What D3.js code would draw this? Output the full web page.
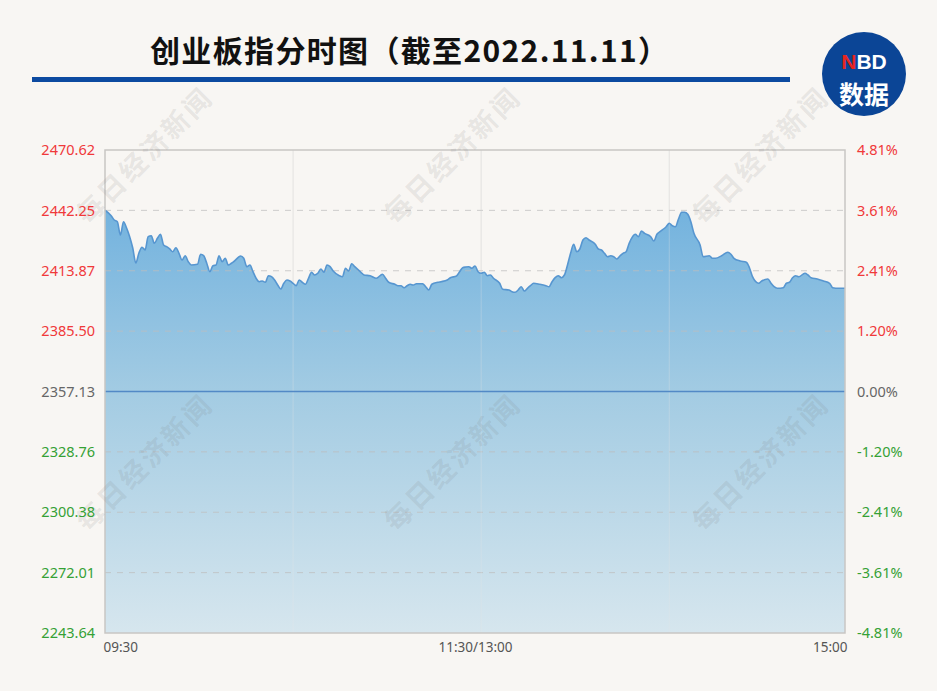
<!DOCTYPE html>
<html><head><meta charset="utf-8">
<script src="https://cdn.jsdelivr.net/npm/d3@7"></script>
<style>body{margin:0;background:#f8f6f3;} svg{display:block}</style>
</head><body><svg id="c" width="937" height="691"></svg>
<script>
const chartTitle = "创业板指分时图（截至2022.11.11）";
const preClose = 2357.13;
const leftTicks = [2470.62, 2442.25, 2413.87, 2385.50, 2357.13, 2328.76, 2300.38, 2272.01, 2243.64];
const rightTickLabels = ["4.81%","3.61%","2.41%","1.20%","0.00%","-1.20%","-2.41%","-3.61%","-4.81%"];
const timeTickIndex = [0, 120, 240];
const timeTickLabels = ["09:30", "11:30/13:00", "15:00"];
const splitIndex = [61, 122, 183];
// minute index since 09:30 (trading minutes, 0..240) and index level
const minuteIndex = [0,2,3,4,5,6,7,8,9,10,11,12,13,14,15,16,17,18,19,20,21,22,23,24,25,26,27,28,30,31,32,33,34,35,36,37,38,39,40,41,42,44,45,46,47,48,49,50,51,52,53,54,55,56,57,58,59,60,61,62,63,64,65,66,67,68,69,70,71,72,73,74,76,77,78,79,80,81,83,84,86,88,90,91,92,94,95,96,97,98,99,100,101,103,104,105,106,108,109,111,112,114,115,116,117,118,119,120,121,122,123,124,125,126,128,129,131,132,133,134,135,136,137,138,139,141,143,144,145,146,147,148,149,150,151,152,153,154,155,156,157,159,160,161,162,163,164,165,166,167,168,169,170,172,173,174,175,177,178,179,180,182,183,184,185,186,187,188,189,190,191,193,194,196,197,198,200,202,203,204,206,208,209,210,212,213,215,216,217,218,220,221,222,223,224,225,227,228,229,231,233,235,236,238,240];
const price = [2442.30,2439.75,2437.72,2436.93,2430.68,2436.93,2433.96,2429.88,2424.57,2417.52,2422.22,2424.94,2423.63,2429.88,2430.35,2426.77,2429.12,2431.00,2425.98,2425.18,2424.10,2422.83,2424.71,2422.08,2418.93,2420.95,2418.13,2416.58,2416.91,2421.61,2420.95,2417.38,2413.43,2416.25,2416.58,2420.95,2418.13,2419.73,2416.58,2417.38,2418.46,2420.81,2419.73,2415.78,2416.58,2413.43,2410.33,2408.73,2409.06,2408.45,2411.55,2411.08,2409.53,2407.18,2405.30,2407.98,2409.53,2409.06,2407.98,2406.85,2409.53,2408.45,2407.51,2410.33,2413.15,2411.88,2412.68,2414.70,2413.15,2416.58,2415.78,2413.76,2411.55,2411.08,2415.03,2413.76,2417.19,2415.78,2413.15,2411.88,2411.55,2410.33,2412.21,2410.33,2408.45,2407.51,2406.85,2406.85,2405.91,2406.85,2407.51,2407.18,2407.79,2407.79,2406.38,2404.83,2407.51,2408.45,2408.73,2409.53,2410.61,2411.41,2413.43,2415.31,2415.64,2415.78,2415.03,2416.11,2413.43,2412.68,2413.15,2411.55,2411.88,2410.33,2407.98,2405.16,2404.83,2404.03,2403.75,2404.83,2406.38,2404.36,2405.63,2406.85,2407.98,2407.51,2406.85,2406.38,2408.73,2410.61,2411.55,2410.61,2411.88,2416.58,2422.08,2426.31,2422.83,2424.10,2428.33,2429.41,2428.33,2426.31,2424.10,2423.63,2422.08,2420.48,2420.95,2420.48,2419.40,2420.81,2422.08,2422.83,2426.77,2431.00,2429.88,2432.55,2431.47,2429.88,2427.86,2431.00,2432.23,2434.58,2436.17,2435.05,2434.58,2438.19,2441.34,2441.34,2440.40,2436.93,2431.47,2425.98,2420.48,2420.95,2419.73,2419.73,2420.95,2422.54,2421.61,2419.73,2418.46,2417.85,2415.31,2411.08,2407.98,2409.06,2410.00,2407.98,2406.38,2405.63,2405.91,2407.98,2408.45,2410.61,2411.55,2411.08,2412.68,2411.88,2410.61,2410.00,2409.06,2407.98,2405.91,2405.63,2405.63];
const watermarkText = "每日经济新闻";

const svg = d3.select("#c");
const W = 937, H = 691;
const L = 105, R = 845, T = 150, B = 633;
svg.append("rect").attr("width", W).attr("height", H).attr("fill", "#f8f6f3");

const x = d3.scaleLinear().domain([0, 240]).range([L, R]);
const y = d3.scaleLinear().domain([leftTicks[leftTicks.length-1], leftTicks[0]]).range([B, T]);
const data = minuteIndex.map((m, i) => ({m, v: price[i]}));

// gradient
const defs = svg.append("defs");
const g1 = defs.append("linearGradient").attr("id", "ag").attr("gradientUnits", "userSpaceOnUse")
  .attr("x1", 0).attr("y1", 205).attr("x2", 0).attr("y2", B);
g1.append("stop").attr("offset", 0).attr("stop-color", "#72b2de");
g1.append("stop").attr("offset", 0.45).attr("stop-color", "#a4cce3");
g1.append("stop").attr("offset", 1).attr("stop-color", "#d6e6ee");

// vertical split lines
svg.append("g").selectAll("line").data(splitIndex).join("line")
  .attr("x1", d => x(d)).attr("x2", d => x(d)).attr("y1", T).attr("y2", B)
  .attr("stroke", "#e6e4e2").attr("stroke-width", 1);

// area
const area = d3.area().x(d => x(d.m)).y0(B).y1(d => y(d.v)).curve(d3.curveMonotoneX);
svg.append("path").datum(data).attr("d", area).attr("fill", "url(#ag)");

// horizontal dashed grid
svg.append("g").selectAll("line").data(leftTicks.slice(1, -1).filter(d => d !== preClose)).join("line")
  .attr("x1", L).attr("x2", R).attr("y1", d => y(d)).attr("y2", d => y(d))
  .attr("stroke", "rgba(190,190,190,0.75)").attr("stroke-width", 1).attr("stroke-dasharray", "6,6");
svg.append("g").selectAll("line").data(splitIndex).join("line")
  .attr("x1", d => x(d)).attr("x2", d => x(d)).attr("y1", T).attr("y2", B)
  .attr("stroke", "rgba(230,230,230,0.3)").attr("stroke-width", 1);

// line
const line = d3.line().x(d => x(d.m)).y(d => y(d.v)).curve(d3.curveMonotoneX);
svg.append("path").datum(data).attr("d", line).attr("fill", "none").attr("stroke", "#5796d0").attr("stroke-width", 1.6);

// baseline
svg.append("line").attr("x1", L).attr("x2", R).attr("y1", y(preClose)).attr("y2", y(preClose))
  .attr("stroke", "#5289c6").attr("stroke-width", 1.5);

// frame
svg.append("rect").attr("x", L).attr("y", T).attr("width", R - L).attr("height", B - T)
  .attr("fill", "none").attr("stroke", "#c8c6c4").attr("stroke-width", 1.5);

// watermarks
const wmPos = [[88,226],[396,226],[704,226],[88,533],[396,533],[704,533]];
svg.append("g").selectAll("text").data(wmPos).join("text")
  .attr("transform", d => `translate(${d[0]},${d[1]}) rotate(-45)`)
  .attr("font-family", "Noto Sans CJK SC").attr("font-weight", "bold").attr("font-size", 27)
  .attr("fill", "rgba(120,120,120,0.15)").attr("letter-spacing", 3)
  .text(watermarkText);

const colorFor = d => d > preClose ? "#f0393a" : (d < preClose ? "#35a135" : "#666666");
const fontF = "'Noto Sans', 'Open Sans', sans-serif";

// left axis
const ax = svg.append("g").attr("transform", `translate(${L},0)`)
  .call(d3.axisLeft(y).tickValues(leftTicks).tickFormat(d3.format(".2f")).tickSize(0).tickPadding(10));
ax.select(".domain").remove();
ax.selectAll("text").attr("font-family", fontF).attr("font-size", 14.5).attr("fill", d => colorFor(d));

// right axis
const ar = svg.append("g").attr("transform", `translate(${R},0)`)
  .call(d3.axisRight(y).tickValues(leftTicks).tickFormat((d, i) => rightTickLabels[i]).tickSize(0).tickPadding(12));
ar.select(".domain").remove();
ar.selectAll("text").attr("font-family", fontF).attr("font-size", 14.5).attr("fill", d => colorFor(d));

// bottom axis
const ab = svg.append("g").attr("transform", `translate(0,${B})`)
  .call(d3.axisBottom(x).tickValues(timeTickIndex).tickFormat((d, i) => timeTickLabels[i]).tickSize(0).tickPadding(9));
ab.select(".domain").remove();
ab.selectAll("text").attr("font-family", fontF).attr("font-size", 13.5).attr("fill", "#555")
  .attr("text-anchor", (d, i) => i === 0 ? "start" : (i === timeTickIndex.length - 1 ? "end" : "middle"))
  .attr("dx", (d, i) => i === 0 ? -2 : (i === timeTickIndex.length - 1 ? 2 : 0));

// title
svg.append("text").attr("x", 150).attr("y", 62)
  .attr("font-family", "'Noto Sans CJK SC', sans-serif").attr("font-weight", "bold").attr("font-size", 30)
  .attr("textLength", 518).attr("lengthAdjust", "spacing")
  .attr("fill", "#111").text(chartTitle);
svg.append("rect").attr("x", 32).attr("y", 77).attr("width", 758).attr("height", 5).attr("fill", "#0c4aa0");

// logo
const lg = svg.append("g").attr("transform", "translate(864,74)");
lg.append("circle").attr("r", 42).attr("fill", "#0b4596");
const nbd = lg.append("text").attr("y", -5).attr("text-anchor", "middle")
  .attr("font-family", "'Liberation Sans', Arial, sans-serif").attr("font-weight", "bold").attr("font-size", 21);
nbd.append("tspan").attr("fill", "#e8261f").text("N");
nbd.append("tspan").attr("fill", "#ffffff").text("BD");
lg.append("text").attr("y", 30).attr("text-anchor", "middle")
  .attr("font-family", "'Noto Sans CJK SC', sans-serif").attr("font-weight", "bold").attr("font-size", 25)
  .attr("fill", "#ffffff").text("数据");
</script></body></html>
